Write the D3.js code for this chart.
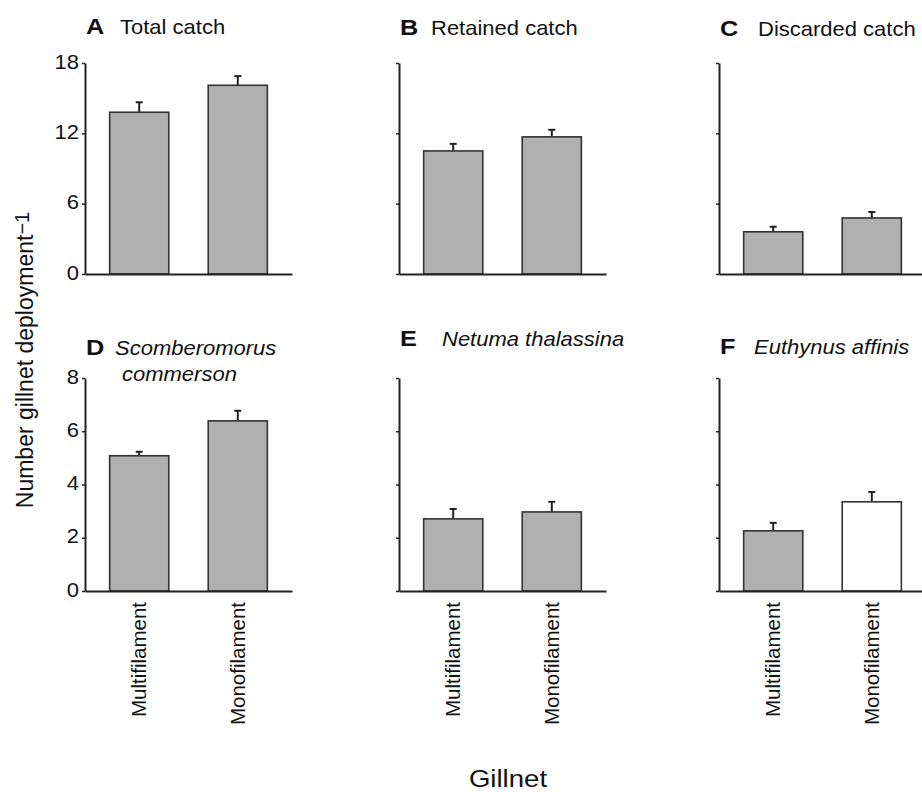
<!DOCTYPE html>
<html>
<head>
<meta charset="utf-8">
<script src="https://cdn.jsdelivr.net/npm/d3@7"></script>
<style>
  body { margin: 0; background: #fff; }
  svg { display: block; font-family: Arial, "Liberation Sans", sans-serif; }
</style>
</head>
<body>
<div id="chart"></div>
<script>
// Data
const panelIds = ["A", "B", "C", "D", "E", "F"];
const panelTitles = ["Total catch", "Retained catch", "Discarded catch",
  "Scomberomorus|commerson", "Netuma thalassina", "Euthynus affinis"];
const italicTitle = [false, false, false, true, true, true];
const gears = ["Multifilament", "Monofilament"];
const multiMeans = [13.8, 10.5, 3.6, 5.08, 2.71, 2.26];
const monoMeans = [16.1, 11.7, 4.78, 6.39, 2.97, 3.35];
const multiSE = [0.85, 0.6, 0.43, 0.15, 0.37, 0.3];
const monoSE = [0.78, 0.6, 0.51, 0.38, 0.38, 0.37];
const rowMax = [18, 8];
const rowTicks = [[0, 6, 12, 18], [0, 2, 4, 6, 8]];
const yLabel = "Number gillnet deployment";
const xLabel = "Gillnet";

// Layout
const width = 922, height = 792;
const colX = [85, 399, 719];
const rowBottom = [274, 591];
const rowTop = [63, 378];
const plotW = 207;
const stretch = 1.1; // horizontal text in the figure is a bit wide
const titleY = [34, 35, 36, 355, 346, 354];
const titleDx = [35, 32, 39, 30, 43, 35];
const ink = "#111";

const svg = d3.select("#chart").append("svg")
  .attr("width", width)
  .attr("height", height);

// Horizontal text with a slight horizontal stretch
function hText(parent, x, y, str, size, opts = {}) {
  return parent.append("text")
    .attr("transform", `translate(${x},${y}) scale(${opts.stretch || stretch},1)`)
    .attr("font-size", size)
    .attr("font-weight", opts.bold ? "bold" : null)
    .attr("font-style", opts.italic ? "italic" : null)
    .attr("text-anchor", opts.anchor || "start")
    .attr("fill", ink)
    .text(str);
}

const x = d3.scaleBand().domain(gears).range([0, plotW])
  .paddingInner(0.4).paddingOuter(0.25);

panelIds.forEach((id, i) => {
  const row = Math.floor(i / 3), col = i % 3;
  const g = svg.append("g").attr("transform", `translate(${colX[col]},0)`);

  const y = d3.scaleLinear().domain([0, rowMax[row]])
    .range([rowBottom[row], rowTop[row]]);

  const values = [
    { gear: gears[0], mean: multiMeans[i], se: multiSE[i] },
    { gear: gears[1], mean: monoMeans[i], se: monoSE[i] },
  ];

  // Error bars (upper only)
  const err = g.selectAll(".err").data(values).join("g");
  err.append("line")
    .attr("x1", (d) => x(d.gear) + x.bandwidth() / 2)
    .attr("x2", (d) => x(d.gear) + x.bandwidth() / 2)
    .attr("y1", (d) => y(d.mean))
    .attr("y2", (d) => y(d.mean + d.se))
    .attr("stroke", "#222").attr("stroke-width", 2);
  err.append("line")
    .attr("x1", (d) => x(d.gear) + x.bandwidth() / 2 - 3.5)
    .attr("x2", (d) => x(d.gear) + x.bandwidth() / 2 + 3.5)
    .attr("y1", (d) => y(d.mean + d.se))
    .attr("y2", (d) => y(d.mean + d.se))
    .attr("stroke", "#222").attr("stroke-width", 2);

  // Bars (Euthynus monofilament drawn open)
  g.selectAll(".bar").data(values).join("rect")
    .attr("x", (d) => x(d.gear))
    .attr("width", x.bandwidth())
    .attr("y", (d) => y(d.mean))
    .attr("height", (d) => y(0) - y(d.mean))
    .attr("fill", (d) => (id === "F" && d.gear === "Monofilament") ? "#ffffff" : "#b0b0b0")
    .attr("stroke", "#333").attr("stroke-width", 1.6);

  // Y axis
  const yAxis = d3.axisLeft(y).tickValues(rowTicks[row]).tickSizeInner(3).tickSizeOuter(0);
  const ya = g.append("g").call(yAxis);
  ya.select(".domain").attr("stroke", "#222").attr("stroke-width", 2);
  ya.selectAll(".tick line").attr("stroke", "#222").attr("stroke-width", 1.5);
  ya.selectAll(".tick text").remove();
  if (col === 0) {
    ya.selectAll(".tick").each(function (d) {
      hText(d3.select(this), -6, 5, d, 20, { anchor: "end" });
    });
  }

  // X axis
  const xa = g.append("g").attr("transform", `translate(0,${rowBottom[row]})`)
    .call(d3.axisBottom(x).tickSize(0).tickFormat(""));
  xa.select(".domain").attr("stroke", "#222").attr("stroke-width", 2);
  if (row === 1) {
    gears.forEach((gear) => {
      g.append("text")
        .attr("transform", `translate(${x(gear) + x.bandwidth() / 2},${rowBottom[row] + 11}) rotate(-90)`)
        .attr("dy", "0.35em")
        .attr("text-anchor", "end")
        .attr("font-size", 20.5)
        .attr("fill", ink)
        .text(gear);
    });
  }

  // Panel title
  hText(g, 1, titleY[i], id, 22, { bold: true, stretch: 1.15 });
  const lines = panelTitles[i].split("|");
  lines.forEach((ln, k) => {
    hText(g, titleDx[i] + k * 7, titleY[i] + k * 26, ln, 20, { italic: italicTitle[i] });
  });
});

// Shared axis titles
const yl = svg.append("text")
  .attr("transform", "translate(33,360) rotate(-90)")
  .attr("text-anchor", "middle")
  .attr("font-size", 23)
  .attr("fill", ink)
  .text(yLabel);
yl.append("tspan").attr("dy", -4).attr("font-size", 20).text("\u22121");

hText(svg, 508, 787, xLabel, 24, { anchor: "middle", stretch: 1.15 });
</script>
</body>
</html>
